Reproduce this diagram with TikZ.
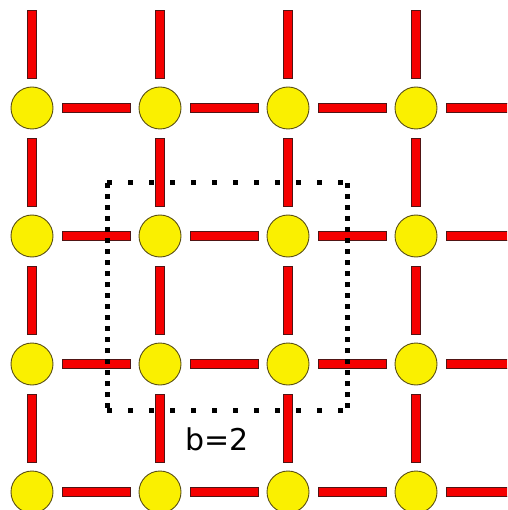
\documentclass[tikz,border=0pt]{standalone}
\usepackage{fontspec}
\usepackage{tikz}
\newfontfamily\labelfont{DejaVu Sans}
\definecolor{sitefill}{RGB}{250, 240, 0}
\definecolor{siteline}{RGB}{90, 80, 20}
\definecolor{bondfill}{RGB}{245, 0, 0}
\definecolor{bondline}{RGB}{80, 20, 20}
\tikzset{
  site/.style={circle, fill=sitefill, draw=siteline, line width=0.9pt, minimum size=42pt, inner sep=0pt},
  bond/.style={fill=bondfill, draw=bondline, line width=0.6pt},
  blockh/.style={draw=black, line width=5pt, dash pattern=on 5pt off 16pt},
  blockv/.style={draw=black, line width=5pt, dash pattern=on 5pt off 6pt}
}
\begin{document}
\begin{tikzpicture}[x=1pt, y=-1pt]
      \useasboundingbox (0,0) rectangle (507,510);
      \clip (0,0) rectangle (507,510);
      % Lattice sites
      \foreach \i in {0,...,3}{
        \foreach \j in {0,...,3}{
          \node[site] (s-\i-\j) at ({32+128*\i},{108+128*\j}) {};
        }
      }
      % Ghost sites just outside the frame
      \foreach \j in {0,...,3}{
        \coordinate (s-4-\j) at (544,{108+128*\j});
      }
      \foreach \i in {0,...,3}{
        \coordinate (s-\i--1) at ({32+128*\i},-20);
      }
      % Bonds to the right and upwards
      \foreach \i [evaluate=\i as \k using int(\i+1)] in {0,...,3}{
        \foreach \j [evaluate=\j as \m using int(\j-1)] in {0,...,3}{
          \draw[bond] ([shift={(30,-4.5)}]s-\i-\j.center) rectangle ([shift={(-30,4.5)}]s-\k-\j.center);
          \draw[bond] ([shift={(-4.5,-30)}]s-\i-\j.center) rectangle ([shift={(4.5,30)}]s-\i-\m.center);
        }
      }
      % Block of b x b sites
      \coordinate (bl-nw) at (107,183);
      \coordinate (bl-ne) at (347,183);
      \coordinate (bl-se) at (347,410);
      \coordinate (bl-sw) at (107,410);
      \draw[blockh] (bl-nw) -- (bl-ne);
      \draw[blockh] (bl-sw) -- (bl-se);
      \draw[blockv] (bl-nw) -- (bl-sw);
      \draw[blockv] (bl-ne) -- (bl-se);
      \node[anchor=base west, inner sep=0pt, font=\labelfont\fontsize{30}{36}\selectfont] (blabel) at (185,450) {b=2};
    \end{tikzpicture}
\end{document}
